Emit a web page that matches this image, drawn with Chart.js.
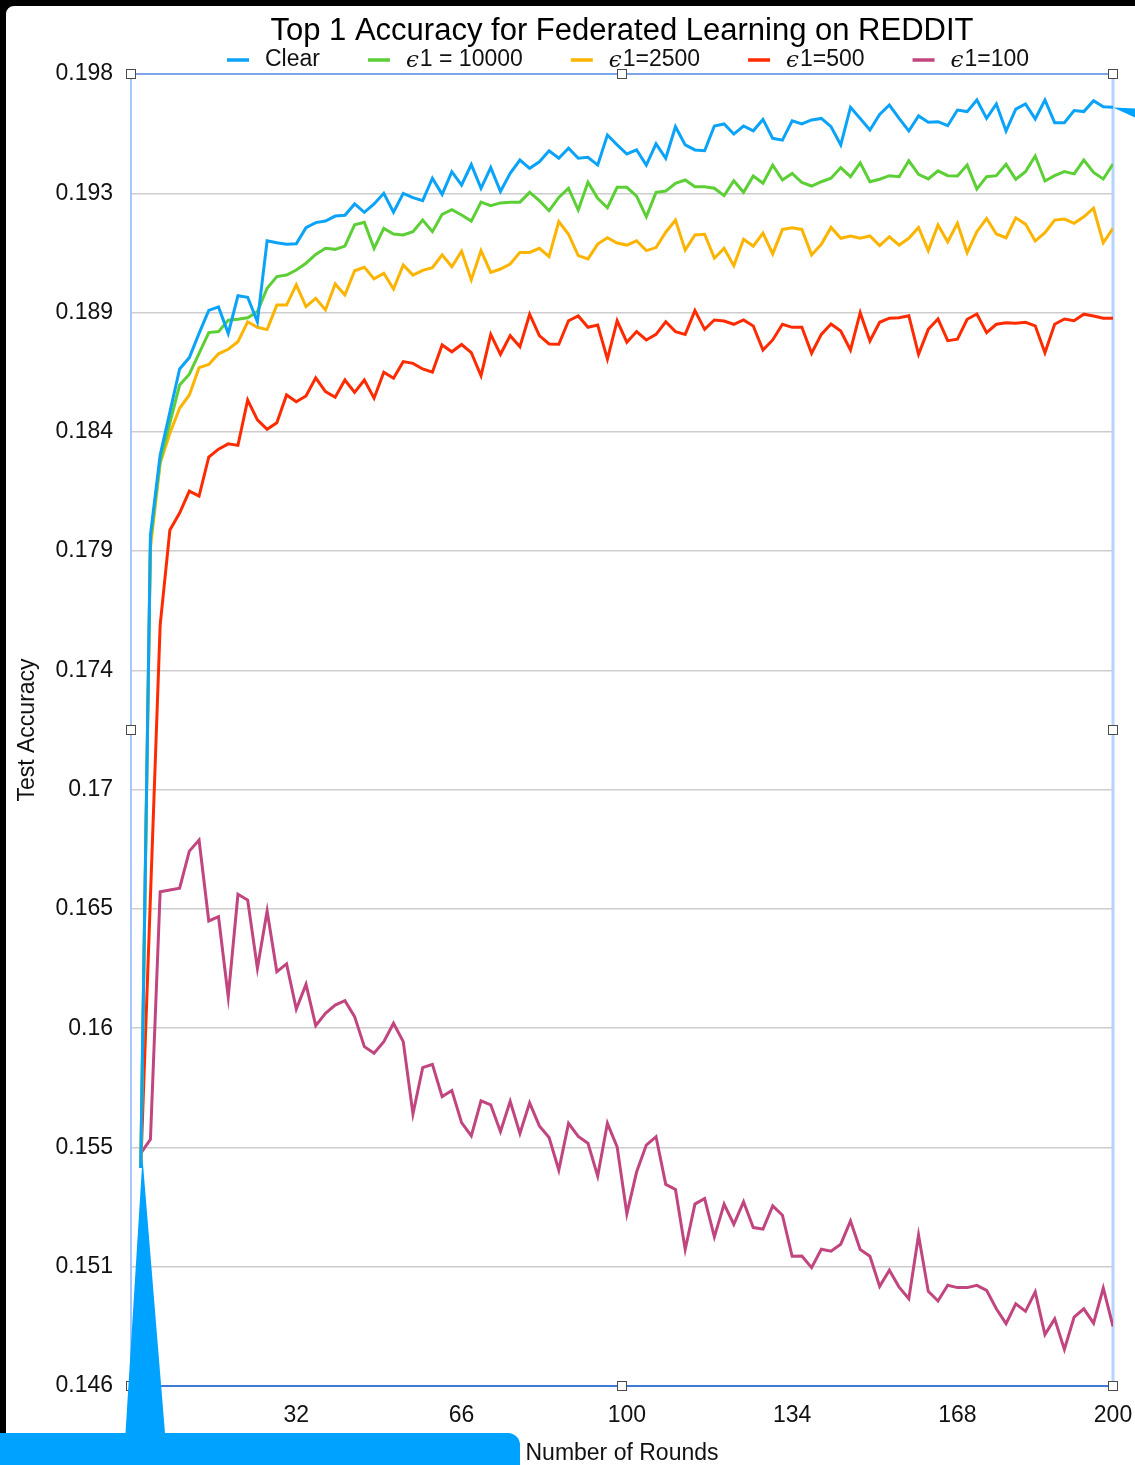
<!DOCTYPE html>
<html>
<head>
<meta charset="utf-8">
<title>Top 1 Accuracy for Federated Learning on REDDIT</title>
<script src="https://cdn.jsdelivr.net/npm/chart.js@4.4.0/dist/chart.umd.min.js"></script>
<style>
  html, body { margin: 0; padding: 0; background: #fff; }
  #wrap { position: relative; width: 1135px; height: 1465px; }
</style>
</head>
<body>
<div id="wrap"><canvas id="accChart"></canvas></div>
<script>
// rounds (one point every 2 rounds)
const rounds = [0, 2, 4, 6, 8, 10, 12, 14, 16, 18, 20, 22, 24, 26, 28, 30, 32, 34, 36, 38,
  40, 42, 44, 46, 48, 50, 52, 54, 56, 58, 60, 62, 64, 66, 68, 70, 72, 74, 76, 78,
  80, 82, 84, 86, 88, 90, 92, 94, 96, 98, 100, 102, 104, 106, 108, 110, 112, 114, 116, 118,
  120, 122, 124, 126, 128, 130, 132, 134, 136, 138, 140, 142, 144, 146, 148, 150, 152, 154, 156, 158,
  160, 162, 164, 166, 168, 170, 172, 174, 176, 178, 180, 182, 184, 186, 188, 190, 192, 194, 196, 198, 200];

const clearAcc = [0.15464, 0.17973, 0.18290, 0.18460, 0.18631, 0.18676, 0.18772, 0.18863, 0.18877, 0.18772,
  0.18921, 0.18915, 0.18818, 0.19139, 0.19131, 0.19125, 0.19127, 0.19191, 0.19211, 0.19217,
  0.19237, 0.19240, 0.19285, 0.19252, 0.19285, 0.19327, 0.19252, 0.19327, 0.19310, 0.19298,
  0.19387, 0.19323, 0.19413, 0.19360, 0.19441, 0.19347, 0.19429, 0.19334, 0.19406, 0.19459,
  0.19426, 0.19452, 0.19496, 0.19466, 0.19506, 0.19466, 0.19470, 0.19439, 0.19558, 0.19519,
  0.19483, 0.19499, 0.19439, 0.19523, 0.19466, 0.19591, 0.19519, 0.19499, 0.19496, 0.19594,
  0.19602, 0.19562, 0.19594, 0.19575, 0.19620, 0.19545, 0.19538, 0.19614, 0.19602, 0.19618,
  0.19624, 0.19591, 0.19519, 0.19668, 0.19624, 0.19578, 0.19640, 0.19677, 0.19624, 0.19574,
  0.19634, 0.19609, 0.19611, 0.19595, 0.19657, 0.19651, 0.19697, 0.19624, 0.19681, 0.19574,
  0.19661, 0.19681, 0.19622, 0.19697, 0.19607, 0.19607, 0.19655, 0.19651, 0.19694, 0.19670,
  0.19668];

const eps10000 = [0.15464, 0.17953, 0.18266, 0.18417, 0.18567, 0.18610, 0.18693, 0.18775, 0.18779, 0.18824,
  0.18828, 0.18834, 0.18858, 0.18951, 0.18997, 0.19003, 0.19023, 0.19050, 0.19085, 0.19109,
  0.19105, 0.19118, 0.19202, 0.19212, 0.19109, 0.19188, 0.19166, 0.19162, 0.19175, 0.19221,
  0.19175, 0.19244, 0.19262, 0.19241, 0.19217, 0.19292, 0.19278, 0.19289, 0.19292, 0.19292,
  0.19331, 0.19298, 0.19258, 0.19311, 0.19347, 0.19261, 0.19371, 0.19307, 0.19270, 0.19351,
  0.19351, 0.19316, 0.19234, 0.19331, 0.19336, 0.19367, 0.19380, 0.19353, 0.19353, 0.19347,
  0.19318, 0.19377, 0.19331, 0.19396, 0.19367, 0.19439, 0.19380, 0.19406, 0.19370, 0.19356,
  0.19373, 0.19387, 0.19429, 0.19393, 0.19448, 0.19373, 0.19383, 0.19397, 0.19393, 0.19456,
  0.19402, 0.19384, 0.19416, 0.19397, 0.19396, 0.19439, 0.19344, 0.19393, 0.19397, 0.19442,
  0.19383, 0.19413, 0.19475, 0.19376, 0.19397, 0.19413, 0.19404, 0.19459, 0.19410, 0.19384,
  0.19443];

const eps2500 = [0.15464, 0.17921, 0.18258, 0.18376, 0.18475, 0.18528, 0.18636, 0.18649, 0.18691, 0.18709,
  0.18739, 0.18818, 0.18796, 0.18787, 0.18884, 0.18884, 0.18964, 0.18878, 0.18911, 0.18865,
  0.18968, 0.18924, 0.19020, 0.19034, 0.18988, 0.19010, 0.18948, 0.19043, 0.19003, 0.19022,
  0.19032, 0.19083, 0.19036, 0.19098, 0.18984, 0.19100, 0.19014, 0.19027, 0.19047, 0.19093,
  0.19093, 0.19109, 0.19076, 0.19215, 0.19165, 0.19080, 0.19067, 0.19126, 0.19151, 0.19130,
  0.19122, 0.19139, 0.19100, 0.19112, 0.19173, 0.19221, 0.19102, 0.19162, 0.19165, 0.19070,
  0.19109, 0.19040, 0.19145, 0.19118, 0.19169, 0.19087, 0.19184, 0.19191, 0.19184, 0.19083,
  0.19125, 0.19192, 0.19149, 0.19158, 0.19149, 0.19158, 0.19120, 0.19155, 0.19122, 0.19149,
  0.19192, 0.19100, 0.19202, 0.19135, 0.19208, 0.19092, 0.19175, 0.19228, 0.19166, 0.19151,
  0.19230, 0.19205, 0.19138, 0.19171, 0.19221, 0.19225, 0.19208, 0.19234, 0.19268, 0.19131,
  0.19188];

const eps500 = [0.15464, 0.16538, 0.17616, 0.17993, 0.18060, 0.18147, 0.18127, 0.18282, 0.18313, 0.18334,
  0.18328, 0.18508, 0.18429, 0.18392, 0.18418, 0.18528, 0.18501, 0.18524, 0.18596, 0.18541,
  0.18519, 0.18587, 0.18538, 0.18587, 0.18515, 0.18618, 0.18594, 0.18660, 0.18653, 0.18631,
  0.18618, 0.18726, 0.18699, 0.18728, 0.18696, 0.18604, 0.18768, 0.18689, 0.18763, 0.18719,
  0.18848, 0.18763, 0.18730, 0.18729, 0.18822, 0.18841, 0.18796, 0.18805, 0.18670, 0.18822,
  0.18737, 0.18779, 0.18746, 0.18768, 0.18818, 0.18779, 0.18768, 0.18862, 0.18788, 0.18825,
  0.18821, 0.18808, 0.18825, 0.18801, 0.18706, 0.18746, 0.18808, 0.18796, 0.18796, 0.18693,
  0.18768, 0.18809, 0.18781, 0.18706, 0.18854, 0.18742, 0.18816, 0.18832, 0.18834, 0.18842,
  0.18689, 0.18788, 0.18829, 0.18743, 0.18749, 0.18828, 0.18849, 0.18775, 0.18808, 0.18814,
  0.18812, 0.18816, 0.18802, 0.18695, 0.18808, 0.18829, 0.18822, 0.18848, 0.18841, 0.18832,
  0.18832];

const eps100 = [0.15522, 0.15578, 0.16559, 0.16566, 0.16573, 0.16720, 0.16764, 0.16443, 0.16460, 0.16143,
  0.16549, 0.16526, 0.16256, 0.16483, 0.16242, 0.16273, 0.16094, 0.16192, 0.16028, 0.16077,
  0.16110, 0.16127, 0.16064, 0.15945, 0.15919, 0.15965, 0.16038, 0.15965, 0.15678, 0.15862,
  0.15875, 0.15747, 0.15771, 0.15644, 0.15591, 0.15730, 0.15714, 0.15608, 0.15728, 0.15601,
  0.15722, 0.15631, 0.15585, 0.15456, 0.15641, 0.15589, 0.15562, 0.15432, 0.15641, 0.15548,
  0.15282, 0.15448, 0.15555, 0.15588, 0.15399, 0.15379, 0.15141, 0.15321, 0.15343, 0.15191,
  0.15321, 0.15241, 0.15330, 0.15228, 0.15222, 0.15314, 0.15277, 0.15114, 0.15115, 0.15069,
  0.15142, 0.15134, 0.15162, 0.15254, 0.15141, 0.15114, 0.14995, 0.15059, 0.14992, 0.14946,
  0.15198, 0.14975, 0.14937, 0.14999, 0.14990, 0.14990, 0.14999, 0.14979, 0.14906, 0.14847,
  0.14926, 0.14896, 0.14973, 0.14804, 0.14866, 0.14745, 0.14873, 0.14906, 0.14849, 0.14988,
  0.14836];

const seriesLabels = ['Clear', 'ϵ1 = 10000', 'ϵ1=2500', 'ϵ1=500', 'ϵ1=100'];
const seriesColors = ['#0ba3f8', '#5dcf36', '#fbb400', '#ff2b00', '#c1467f'];
const xTickValues = [-2, 32, 66, 100, 134, 168, 200];
const xTickLabels = ['', '32', '66', '100', '134', '168', '200'];
const yTickLabels = ['0.146', '0.151', '0.155', '0.16', '0.165', '0.17', '0.174', '0.179', '0.184', '0.189', '0.193', '0.198'];
const yMin = 0.146;
const yMax = 0.198;

const sans = '"Liberation Sans", Arial, Helvetica, sans-serif';

const allSeries = [clearAcc, eps10000, eps2500, eps500, eps100];
const datasets = allSeries.map((vals, s) => ({
  label: seriesLabels[s],
  data: vals.map((v, i) => ({ x: rounds[i], y: v })),
  borderColor: seriesColors[s],
  backgroundColor: seriesColors[s],
  borderWidth: 3,
  pointRadius: 0,
  tension: 0,
  fill: false
}));

// legend, plot frame, selection handles, callout shapes
const decor = {
  id: 'decor',
  beforeDraw(chart) {
    const ctx = chart.ctx;
    ctx.save();
    ctx.fillStyle = '#fff';
    ctx.fillRect(0, 0, chart.width, chart.height);
    ctx.restore();
  },
  beforeDatasetsDraw(chart) {
    const { ctx, chartArea: a } = chart;
    const seg = (x1, y1, x2, y2, color, w) => {
      ctx.strokeStyle = color;
      ctx.lineWidth = w;
      ctx.beginPath();
      ctx.moveTo(x1, y1);
      ctx.lineTo(x2, y2);
      ctx.stroke();
    };
    ctx.save();
    seg(a.left, a.top, a.left, a.bottom, '#a8c6fc', 2);
    seg(a.right, a.top, a.right, a.bottom, '#b8d3fe', 3);
    seg(a.left, a.top, a.right, a.top, '#80a6ea', 2);
    seg(a.left, a.bottom, a.right, a.bottom, '#3f79d9', 2);
    ctx.restore();
  },
  afterDraw(chart) {
    const { ctx, chartArea: a } = chart;
    ctx.save();

    // legend row
    let x = a.left + 96;
    const ly = 60;
    ctx.textBaseline = 'middle';
    chart.data.datasets.forEach((ds) => {
      ctx.fillStyle = ds.borderColor;
      ctx.fillRect(x, ly - 1.75, 22, 3.5);
      x += 38;
      ctx.fillStyle = '#111';
      let text = ds.label;
      if (text.startsWith('ϵ')) {
        ctx.font = 'italic 23px "DejaVu Serif", serif';
        ctx.fillText('ϵ', x, ly + 1);
        x += ctx.measureText('ϵ').width + 1;
        text = text.slice(1);
      }
      ctx.font = '23px ' + sans;
      ctx.fillText(text, x, ly);
      x += ctx.measureText(text).width + 48;
    });

    // selection handles around the plot
    const mx = (a.left + a.right) / 2;
    const my = (a.top + a.bottom) / 2;
    const handles = [[a.left, a.top], [mx, a.top], [a.right, a.top], [a.left, my], [a.right, my],
      [a.left, a.bottom], [mx, a.bottom], [a.right, a.bottom]];
    ctx.lineWidth = 1;
    ctx.strokeStyle = '#4a4a4a';
    ctx.fillStyle = '#fff';
    handles.forEach(([hx, hy]) => {
      ctx.fillRect(hx - 4.5, hy - 4.5, 9, 9);
      ctx.strokeRect(hx - 4.5, hy - 4.5, 9, 9);
    });

    // callout pointers
    ctx.fillStyle = '#00a2ff';
    ctx.beginPath();
    ctx.moveTo(-10, 1433);
    ctx.lineTo(125.5, 1433);
    ctx.lineTo(142.5, 1158);
    ctx.lineTo(165, 1433);
    ctx.lineTo(508, 1433);
    ctx.arcTo(520, 1433, 520, 1445, 12);
    ctx.lineTo(520, 1475);
    ctx.lineTo(-10, 1475);
    ctx.closePath();
    ctx.fill();
    ctx.beginPath();
    ctx.moveTo(a.right, 107.5);
    ctx.lineTo(chart.width, 108.5);
    ctx.lineTo(chart.width, 117.5);
    ctx.closePath();
    ctx.fill();

    // dark window edge
    ctx.fillStyle = '#000';
    ctx.beginPath();
    ctx.rect(0, 0, chart.width, 1433);
    ctx.moveTo(14, 6);
    ctx.lineTo(chart.width + 20, 6);
    ctx.lineTo(chart.width + 20, 1433);
    ctx.lineTo(6, 1433);
    ctx.lineTo(6, 14);
    ctx.arcTo(6, 6, 14, 6, 8);
    ctx.closePath();
    ctx.fill('evenodd');
    ctx.restore();
  }
};

new Chart(document.getElementById('accChart'), {
  type: 'line',
  data: { datasets },
  plugins: [decor],
  options: {
    responsive: true,
    maintainAspectRatio: false,
    animation: false,
    layout: { padding: { top: 0, left: 0, right: 22, bottom: 0 } },
    plugins: {
      legend: { display: false },
      tooltip: { enabled: false },
      title: {
        display: true,
        text: 'Top 1 Accuracy for Federated Learning on REDDIT',
        fullSize: false,
        color: '#000',
        font: { family: sans, size: 31, weight: 'normal', lineHeight: 1.2 },
        padding: { top: 13, bottom: 23.8 }
      }
    },
    scales: {
      x: {
        type: 'linear',
        min: -2,
        max: 200,
        afterBuildTicks: (scale) => { scale.ticks = xTickValues.map((v) => ({ value: v })); },
        afterFit: (scale) => {
          scale.height = 79;
          scale.paddingLeft = 0;
          scale.paddingRight = 0;
        },
        ticks: {
          autoSkip: false,
          maxRotation: 0,
          padding: 8,
          color: '#111',
          font: { family: sans, size: 23 },
          callback: (v, i) => xTickLabels[i]
        },
        grid: { display: false },
        border: { display: false },
        title: {
          display: true,
          text: 'Number of Rounds',
          color: '#111',
          font: { family: sans, size: 23, lineHeight: 1 },
          padding: { top: 0, bottom: 0 }
        }
      },
      y: {
        min: yMin,
        max: yMax,
        afterBuildTicks: (scale) => {
          scale.ticks = yTickLabels.map((_, i) => ({ value: yMin + i * (yMax - yMin) / (yTickLabels.length - 1) }));
        },
        afterFit: (scale) => { scale.width = 131; },
        ticks: {
          autoSkip: false,
          padding: 18,
          color: '#111',
          font: { family: sans, size: 23 },
          callback: (v, i) => yTickLabels[i]
        },
        grid: { color: '#cdcdcd', lineWidth: 1.5, drawTicks: false },
        border: { display: false },
        title: {
          display: true,
          text: 'Test Accuracy',
          color: '#111',
          font: { family: sans, size: 23, lineHeight: 1.2 },
          padding: { top: 14, bottom: 0 }
        }
      }
    }
  }
});
</script>
</body>
</html>
